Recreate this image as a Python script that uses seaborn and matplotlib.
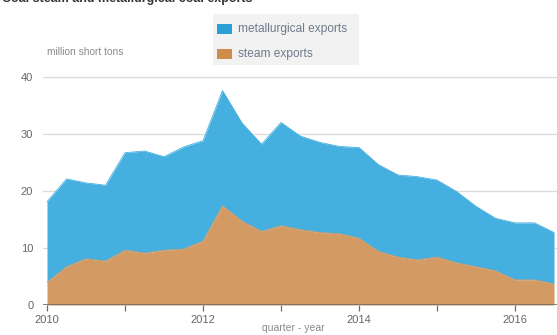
import matplotlib
matplotlib.use("Agg")
import matplotlib.pyplot as plt
import matplotlib.patches as mpatches
import numpy as np
import pandas as pd
import seaborn as sns

# Quarterly U.S. coal exports, 2010Q1 - 2016Q3 (million short tons)
quarters = [2010 + i * 0.25 for i in range(27)]
steam = [4.0, 6.7, 8.1, 7.7, 9.6, 9.1, 9.6, 9.8, 11.2, 17.4, 14.7, 12.9, 13.9,
         13.2, 12.7, 12.5, 11.7, 9.4, 8.4, 7.9, 8.4, 7.4, 6.7, 6.0, 4.4, 4.4, 3.7]
total = [18.1, 22.1, 21.4, 21.0, 26.7, 27.0, 26.0, 27.7, 28.8, 37.6, 31.9, 28.2, 32.0,
         29.6, 28.5, 27.8, 27.6, 24.6, 22.8, 22.5, 21.9, 19.9, 17.3, 15.2, 14.4, 14.4, 12.7]
metallurgical = [t - s for t, s in zip(total, steam)]

series_names = ["metallurgical exports", "steam exports"]
year_ticks = [2010, 2011, 2012, 2013, 2014, 2015, 2016]
year_labels = ["2010", "", "2012", "", "2014", "", "2016"]
y_ticks = [0, 10, 20, 30, 40]

BLUE = "#45afe0"
ORANGE = "#d39b63"
GREY_TEXT = "#8a8a8a"

sns.set_theme(style="white")
plt.rcParams["font.family"] = ["Liberation Sans", "DejaVu Sans"]

df = pd.DataFrame({"quarter": quarters, "steam": steam,
                   "total": [s + m for s, m in zip(steam, metallurgical)]})

fig = plt.figure(figsize=(5.57, 3.35), dpi=100)
ax = fig.add_axes([43 / 557, 1 - 305 / 335, 1 - 43 / 557, (305 - 74) / 335])

ax.fill_between(df["quarter"], df["steam"], df["total"], color=BLUE, lw=0, zorder=2)
ax.fill_between(df["quarter"], 0, df["steam"], color=ORANGE, lw=0, zorder=3)
sns.lineplot(data=df, x="quarter", y="total", ax=ax, color=BLUE, lw=0.6, zorder=2)
sns.lineplot(data=df, x="quarter", y="steam", ax=ax, color=ORANGE, lw=0.6, zorder=3)

ax.set_xlim(2010 - 4 / 78, 2010 + (557 - 47) / 78)
ax.set_ylim(0, 40.5)

for y in y_ticks[1:]:
    ax.axhline(y, color="#dcdcdc", lw=1.0, zorder=1)
ax.axhline(0, color="#6e6a66", lw=1.2, zorder=4)

for side in ["top", "right", "left", "bottom"]:
    ax.spines[side].set_visible(False)

ax.set_xticks(year_ticks)
ax.set_xticklabels(year_labels)
ax.set_yticks(y_ticks)
ax.tick_params(axis="x", length=4, width=0.9, color="#6e6a66", direction="out",
               labelsize=8, labelcolor="#666666", pad=3, bottom=True)
ax.tick_params(axis="y", length=0, labelsize=8, labelcolor="#666666", pad=7)
ax.set_xlabel("")
ax.set_ylabel("")

fig.text(47 / 557, 1 - 52 / 335, "million short tons", fontsize=7.3, color=GREY_TEXT,
         va="center", ha="left")
fig.text(293 / 557, 1 - 328 / 335, "quarter - year", fontsize=7.5, color=GREY_TEXT,
         va="center", ha="center")
fig.text(2 / 557, 1 + 1 / 335, "Coal steam and metallurgical coal exports",
         fontsize=9, fontweight="bold", color="#333333", va="center", ha="left")

# legend box
leg_ax = fig.add_axes([0, 0, 1, 1], facecolor="none")
leg_ax.set_xlim(0, 557)
leg_ax.set_ylim(335, 0)
leg_ax.axis("off")
leg_ax.add_patch(mpatches.Rectangle((213, 14), 146, 51, facecolor="#f2f2f2",
                                    edgecolor="none"))
for i, (name, col) in enumerate(zip(series_names, ["#2a9fd8", "#cf8c4a"])):
    yc = 29 + i * 25
    leg_ax.add_patch(mpatches.Rectangle((217, yc - 5), 15, 10, facecolor=col,
                                        edgecolor="none"))
    leg_ax.text(238, yc, name, fontsize=8.6, color="#6d7a8c", va="center", ha="left")

fig.savefig("out.png", dpi=100)
